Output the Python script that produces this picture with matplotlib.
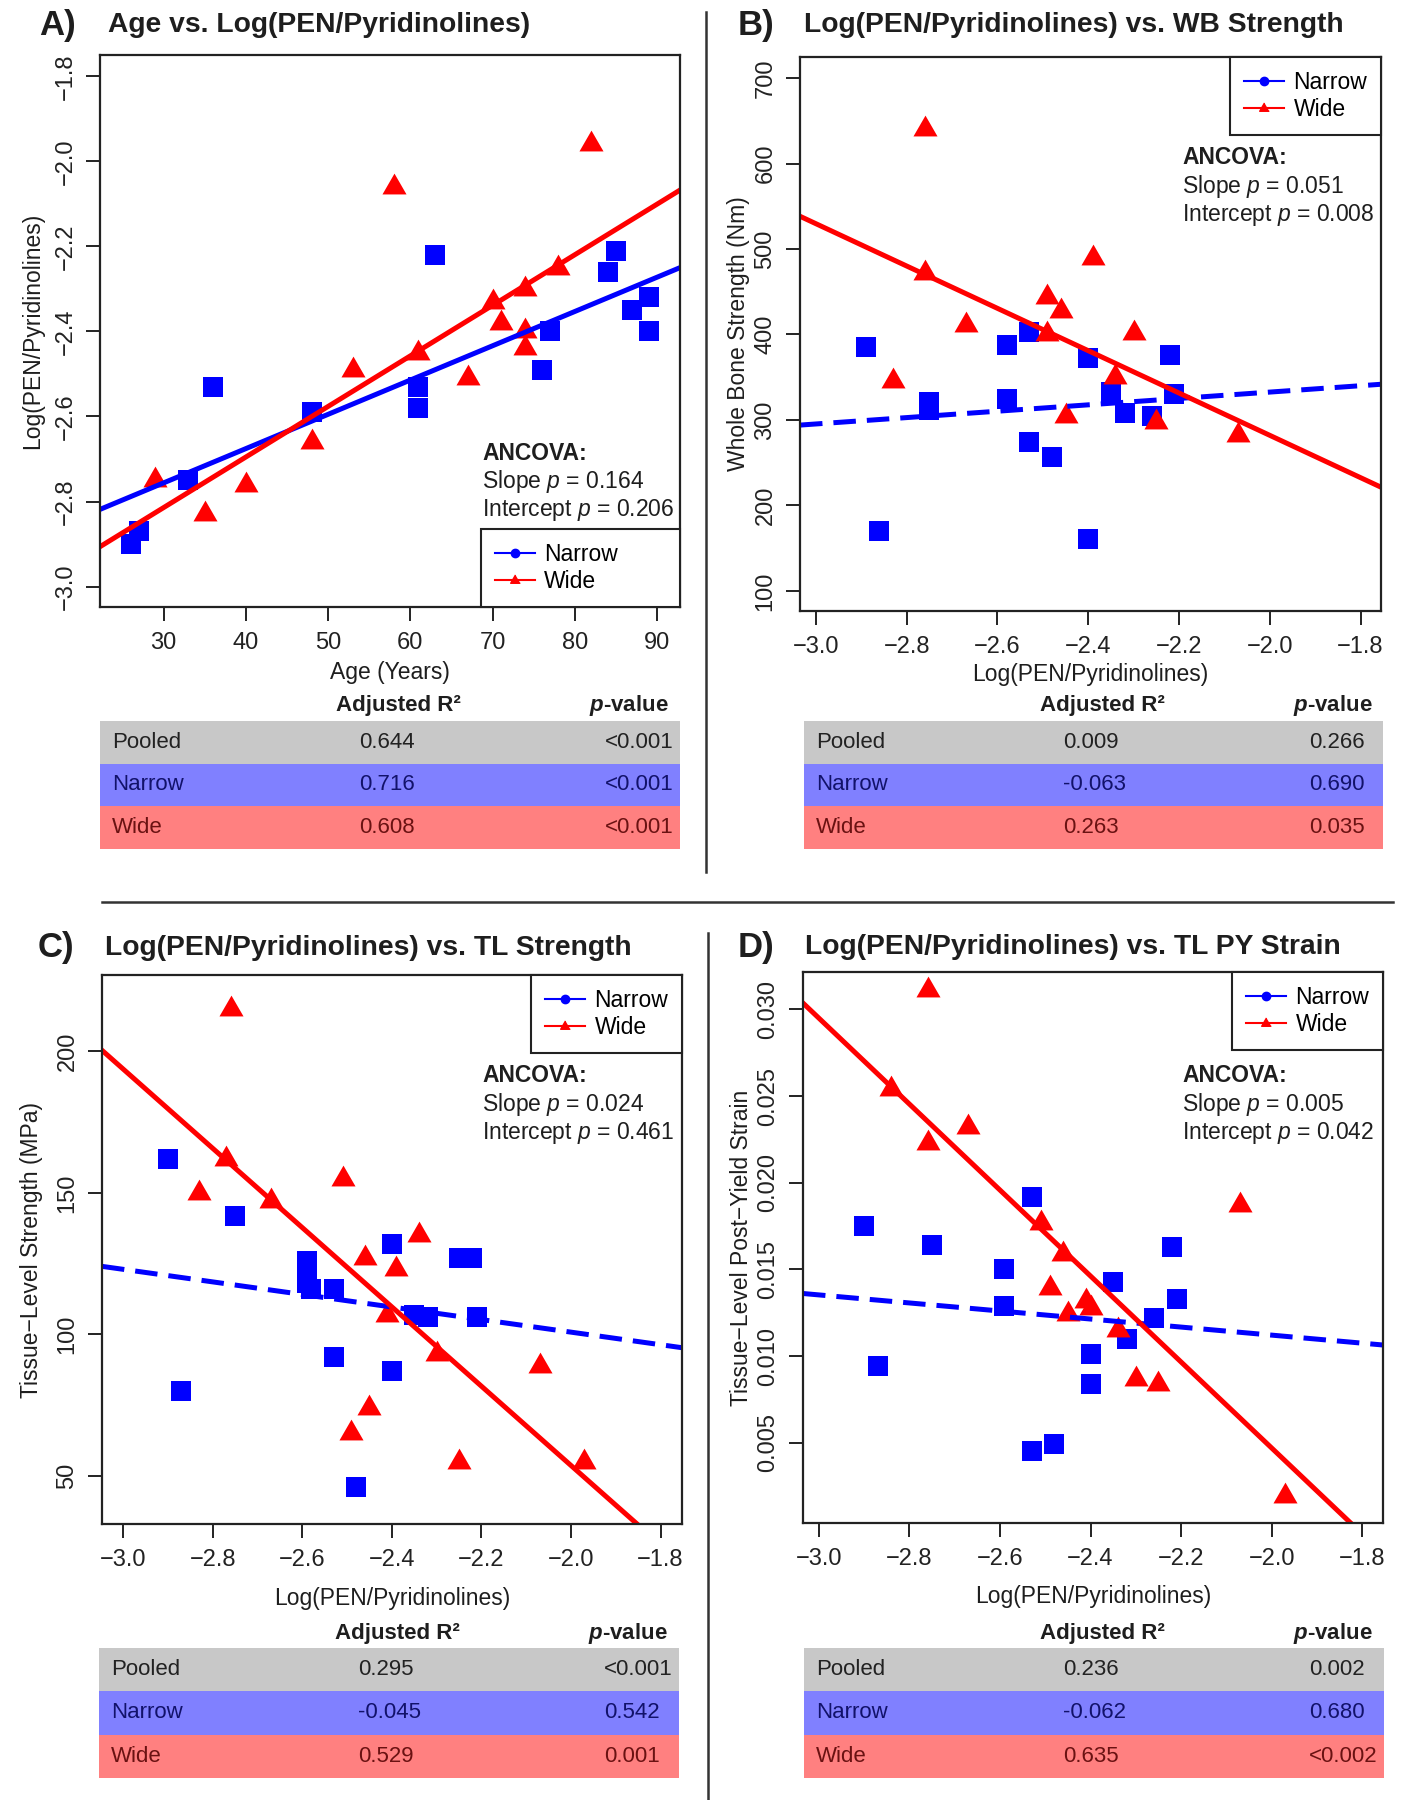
import numpy as np
import matplotlib
matplotlib.use("Agg")
import matplotlib.pyplot as plt
from matplotlib.lines import Line2D

W, H = 1411, 1800
plt.rcParams["font.family"] = ["Liberation Sans", "DejaVu Sans"]
plt.rcParams["mathtext.fontset"] = "custom"
plt.rcParams["mathtext.rm"] = "Liberation Sans"
plt.rcParams["mathtext.it"] = "Liberation Sans:italic"
plt.rcParams["mathtext.bf"] = "Liberation Sans:bold:italic"

BLUE, RED, INK = "#0000FF", "#FF0000", "#1e1e1e"

# ---- A) age vs log ratio
a_narrow_x = [26, 27, 33, 36, 48, 61, 61, 63, 76, 77, 84, 85, 87, 89, 89]
a_narrow_y = [-2.90, -2.87, -2.75, -2.53, -2.59, -2.53, -2.58, -2.22, -2.49,
              -2.40, -2.26, -2.21, -2.35, -2.32, -2.40]
a_wide_x = [29, 35, 40, 48, 53, 58, 61, 67, 70, 71, 74, 74, 74, 78, 82]
a_wide_y = [-2.75, -2.83, -2.76, -2.66, -2.49, -2.06, -2.45, -2.51, -2.33,
            -2.38, -2.30, -2.40, -2.44, -2.25, -1.96]
a_fit_narrow = (0.00806, -2.998)   # slope, intercept
a_fit_wide = (0.01189, -3.171)

# ---- B) log ratio vs whole bone strength
b_narrow_x = [-2.89, -2.86, -2.75, -2.75, -2.58, -2.58, -2.53, -2.53, -2.48,
              -2.40, -2.40, -2.35, -2.32, -2.26, -2.22, -2.21]
b_narrow_y = [385, 170, 321, 312, 388, 324, 403, 274, 257, 373, 161, 333, 308,
              305, 376, 330]
b_wide_x = [-2.76, -2.76, -2.83, -2.67, -2.49, -2.49, -2.46, -2.39, -2.30,
            -2.34, -2.45, -2.25, -2.07]
b_wide_y = [640, 472, 345, 411, 444, 400, 428, 489, 402, 350, 305, 298, 282]
b_fit_narrow = (37.3, 407.2)
b_fit_wide = (-247.6, -213.2)

# ---- C) log ratio vs tissue-level strength
c_narrow_x = [-2.90, -2.87, -2.75, -2.59, -2.59, -2.59, -2.58, -2.53, -2.53,
              -2.48, -2.40, -2.40, -2.35, -2.32, -2.25, -2.22, -2.21]
c_narrow_y = [162, 80, 142, 126, 122, 118, 116, 116, 92, 46, 132, 87, 107,
              106, 127, 127, 106]
c_wide_x = [-2.76, -2.77, -2.83, -2.67, -2.51, -2.46, -2.39, -2.34, -2.41,
            -2.30, -2.45, -2.49, -2.25, -2.07, -1.97]
c_wide_y = [215, 162, 150, 147, 155, 127, 123, 135, 107, 93, 74, 65, 55, 89, 55]
c_fit_narrow = (-22.2, 56.4)
c_fit_wide = (-140.1, -226.5)

# ---- D) log ratio vs tissue-level post-yield strain
d_narrow_x = [-2.90, -2.87, -2.75, -2.59, -2.59, -2.53, -2.53, -2.48, -2.40,
              -2.40, -2.35, -2.32, -2.26, -2.22, -2.21]
d_narrow_y = [0.0175, 0.0094, 0.0164, 0.0150, 0.0129, 0.0192, 0.0045, 0.0049,
              0.0101, 0.0084, 0.0143, 0.0110, 0.0122, 0.0163, 0.0133]
d_wide_x = [-2.76, -2.84, -2.76, -2.67, -2.51, -2.46, -2.49, -2.45, -2.41,
            -2.40, -2.34, -2.30, -2.25, -2.07, -1.97]
d_wide_y = [0.0311, 0.0254, 0.0223, 0.0232, 0.0177, 0.0159, 0.0139, 0.0124,
            0.0132, 0.0128, 0.0115, 0.0087, 0.0084, 0.0187, 0.0019]
d_fit_narrow = (-0.00232, 0.00657)
d_fit_wide = (-0.0248, -0.0449)

# ---- tables / ancova
row_names = ["Pooled", "Narrow", "Wide"]
row_fill = ["#C8C8C8", "#8080FF", "#FF8080"]
row_ink = ["#222222", "#12126a", "#6a1212"]
a_r2, a_p = ["0.644", "0.716", "0.608"], ["<0.001", "<0.001", "<0.001"]
b_r2, b_p = ["0.009", "-0.063", "0.263"], ["0.266", "0.690", "0.035"]
c_r2, c_p = ["0.295", "-0.045", "0.529"], ["<0.001", "0.542", "0.001"]
d_r2, d_p = ["0.236", "-0.062", "0.635"], ["0.002", "0.680", "<0.002"]
a_ancova = ("0.164", "0.206")
b_ancova = ("0.051", "0.008")
c_ancova = ("0.024", "0.461")
d_ancova = ("0.005", "0.042")

TRI = [(0, 1), (-0.866, -0.5), (0.866, -0.5)]

fig = plt.figure(figsize=(W / 100, H / 100), dpi=100)


def px_axes(l, t, r, b):
    return fig.add_axes([l / W, 1 - b / H, (r - l) / W, (b - t) / H])


def ftext(x, y, s, **kw):
    kw.setdefault("color", INK)
    kw.setdefault("va", "center")
    fig.text(x / W, 1 - y / H, s, **kw)


def fmt(v, nd):
    return f"{v:.{nd}f}".replace("-", "\u2212")


def panel(box, xlim, ylim, xticks, xnd, yticks, ynd, nx, ny, wx, wy,
          fit_n, fit_w, dashed):
    ax = px_axes(*box)
    ax.plot(nx, ny, ls="none", marker="s", ms=15, mew=0, color=BLUE)
    ax.plot(wx, wy, ls="none", marker=TRI, ms=20, mew=0, color=RED)
    ax.axline((0, fit_n[1]), slope=fit_n[0], color=BLUE, lw=3.6,
              ls=(0, (4.5, 2.2)) if dashed else "-")
    ax.axline((0, fit_w[1]), slope=fit_w[0], color=RED, lw=3.6)
    ax.set_xlim(*xlim)
    ax.set_ylim(*ylim)
    ax.set_xticks(xticks)
    ax.set_xticklabels([fmt(v, xnd) for v in xticks])
    ax.set_yticks(yticks)
    ax.set_yticklabels([fmt(v, ynd) for v in yticks], rotation=90, va="center")
    for s in ax.spines.values():
        s.set_linewidth(1.6)
        s.set_color("#222222")
    ax.tick_params(direction="out", length=10, width=1.4, labelsize=17,
                   colors="#222222")
    ax.tick_params(axis="x", pad=8)
    ax.tick_params(axis="y", pad=7)
    return ax


def legend(ax, **kw):
    hs = [Line2D([], [], color=BLUE, marker="o", ms=6, lw=1.5, label="Narrow"),
          Line2D([], [], color=RED, marker=TRI, ms=8, lw=1.5, label="Wide")]
    leg = ax.legend(handles=hs, borderaxespad=0, fancybox=False,
                    edgecolor="#222222", framealpha=1, fontsize=16.5,
                    handlelength=1.75, handletextpad=0.4, borderpad=0.6,
                    labelspacing=0.2, **kw)
    leg.get_frame().set_linewidth(1.5)


def ancova(x, y0, vals):
    ftext(x, y0, "ANCOVA:", fontsize=16.5, fontweight="bold")
    ftext(x, y0 + 28.5, f"Slope $\\mathit{{p}}$ = {vals[0]}", fontsize=16.5)
    ftext(x, y0 + 57, f"Intercept $\\mathit{{p}}$ = {vals[1]}", fontsize=16.5)


def table(box, header_y, r2, p):
    l, t, r, b = box
    w = r - l
    tab = px_axes(*box)
    tab.set_xlim(0, w)
    tab.set_ylim(3, 0)
    tab.axis("off")
    tab.barh([0.5, 1.5, 2.5], [w] * 3, height=1.0, left=0, color=row_fill)
    hy = -(t - header_y) / ((b - t) / 3)
    tab.text(236, hy, "Adjusted R\u00b2", fontsize=16, fontweight="bold",
             va="center", color=INK, clip_on=False)
    tab.text(489, hy, "$\\mathbf{p}$-value", fontsize=16, fontweight="bold",
             va="center", color=INK, clip_on=False)
    for i in range(3):
        tab.text(12, i + 0.5, row_names[i], fontsize=16, va="center", color=row_ink[i])
        tab.text(259, i + 0.5, r2[i], fontsize=16, va="center", color=row_ink[i])
        tab.text(505, i + 0.5, p[i], fontsize=16, va="center", color=row_ink[i])


LOGX = [-3.0, -2.8, -2.6, -2.4, -2.2, -2.0, -1.8]
TITLE = dict(fontsize=20.3, fontweight="bold")
TAG = dict(fontsize=25, fontweight="bold", ha="center")

# A
ax = panel((100, 55, 680, 607), (22.27, 92.8), (-3.048, -1.75),
           [30, 40, 50, 60, 70, 80, 90], 0, [-3.0, -2.8, -2.6, -2.4, -2.2, -2.0, -1.8], 1,
           a_narrow_x, a_narrow_y, a_wide_x, a_wide_y, a_fit_narrow, a_fit_wide, False)
legend(ax, loc="lower left", bbox_to_anchor=(0.657, 0, 0.343, 0.141), mode="expand")
ancova(482, 453, a_ancova)
ftext(58, 25, "A)", **TAG)
ftext(108, 25, "Age vs. Log(PEN/Pyridinolines)", **TITLE)
ftext(390, 672, "Age (Years)", fontsize=16.5, ha="center")
ftext(33, 331, "Log(PEN/Pyridinolines)", fontsize=16.5, ha="center", rotation=90)
table((100, 721, 680, 849), 705, a_r2, a_p)

# B
ax = panel((800, 57, 1381, 611), (-3.035, -1.755), (76.5, 724.6),
           LOGX, 1, [100, 200, 300, 400, 500, 600, 700], 0,
           b_narrow_x, b_narrow_y, b_wide_x, b_wide_y, b_fit_narrow, b_fit_wide, True)
legend(ax, loc="upper right")
ancova(1182, 158, b_ancova)
ftext(756, 25, "B)", **TAG)
ftext(804, 25, "Log(PEN/Pyridinolines) vs. WB Strength", **TITLE)
ftext(1090, 674, "Log(PEN/Pyridinolines)", fontsize=16.5, ha="center")
ftext(739, 334, "Whole Bone Strength (Nm)", fontsize=16.5, ha="center", rotation=90)
table((804, 721, 1383, 849), 705, b_r2, b_p)

# C
ax = panel((102, 975, 682, 1524), (-3.047, -1.752), (33, 227),
           LOGX, 1, [50, 100, 150, 200], 0,
           c_narrow_x, c_narrow_y, c_wide_x, c_wide_y, c_fit_narrow, c_fit_wide, True)
legend(ax, loc="upper right")
ancova(482, 1076, c_ancova)
ftext(56, 948, "C)", **TAG)
ftext(105, 948, "Log(PEN/Pyridinolines) vs. TL Strength", **TITLE)
ftext(392, 1598, "Log(PEN/Pyridinolines)", fontsize=16.5, ha="center")
ftext(32, 1250, "Tissue\u2212Level Strength (MPa)", fontsize=16.5, ha="center", rotation=90)
table((99, 1648, 679, 1778), 1633, c_r2, c_p)

# D
ax = panel((803, 972, 1383, 1523), (-3.035, -1.754), (0.00037, 0.03216),
           LOGX, 1, [0.005, 0.010, 0.015, 0.020, 0.025, 0.030], 3,
           d_narrow_x, d_narrow_y, d_wide_x, d_wide_y, d_fit_narrow, d_fit_wide, True)
legend(ax, loc="upper right")
ancova(1182, 1076, d_ancova)
ftext(756, 947, "D)", **TAG)
ftext(805, 947, "Log(PEN/Pyridinolines) vs. TL PY Strain", **TITLE)
ftext(1093, 1597, "Log(PEN/Pyridinolines)", fontsize=16.5, ha="center")
ftext(741, 1248, "Tissue\u2212Level Post\u2212Yield Strain", fontsize=16.5, ha="center", rotation=90)
table((804, 1648, 1384, 1778), 1633, d_r2, d_p)

# panel dividers
for (x0, y0, x1, y1) in [(706, 12, 706, 872), (102, 902, 1393, 902), (708, 933, 708, 1800)]:
    fig.add_artist(Line2D([x0 / W, x1 / W], [1 - y0 / H, 1 - y1 / H],
                          transform=fig.transFigure, color="#333333", lw=1.8))

fig.savefig("out.png", dpi=100, facecolor="white")
